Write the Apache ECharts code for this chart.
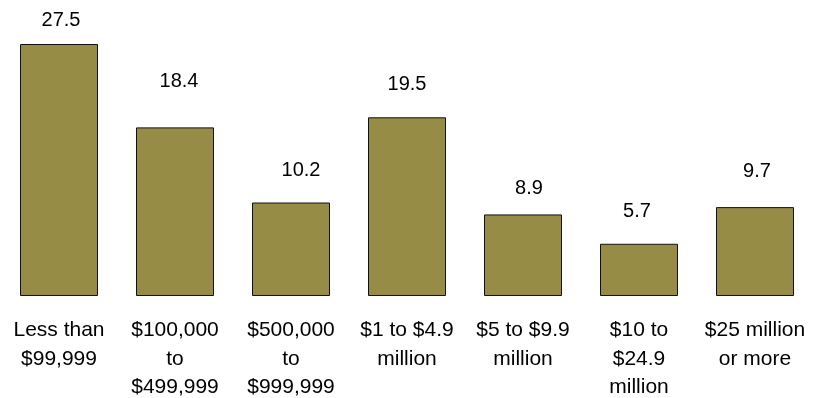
<!DOCTYPE html>
<html>
<head>
<meta charset="utf-8">
<script src="https://cdn.jsdelivr.net/npm/echarts@6/dist/echarts.min.js"></script>
<style>
  html, body { margin: 0; padding: 0; background: #ffffff; }
  #chart { width: 813px; height: 398px; }
</style>
</head>
<body>
<div id="chart"></div>
<script>
// Revenue brackets and the share (%) in each
const categories = [
  'Less than\n$99,999',
  '$100,000\nto\n$499,999',
  '$500,000\nto\n$999,999',
  '$1 to $4.9\nmillion',
  '$5 to $9.9\nmillion',
  '$10 to\n$24.9\nmillion',
  '$25 million\nor more'
];
const shares = [27.5, 18.4, 10.2, 19.5, 8.9, 5.7, 9.7];

// Hand placement of each value label relative to its bar top: [dx, dy]
const labelNudge = [
  [2, -14], [4, -36], [10, -22], [0, -23], [6, -16], [-2, -22], [2, -26]
];

const FONT = '"Liberation Sans", Arial, sans-serif';

const chart = echarts.init(document.getElementById('chart'), null, { renderer: 'canvas' });

chart.setOption({
  animation: false,
  backgroundColor: '#ffffff',
  grid: {
    left: 1, top: 44, width: 812, height: 252,
    containLabel: false,
    outerBoundsMode: 'none'
  },
  xAxis: {
    type: 'category',
    data: categories,
    axisLine: { show: false },
    axisTick: { show: false },
    axisLabel: {
      interval: 0,
      margin: 20,
      color: '#000000',
      fontFamily: FONT,
      fontSize: 21,
      lineHeight: 28.5,
      align: 'center'
    }
  },
  yAxis: {
    type: 'value',
    min: 0,
    max: 27.5,
    show: false,
    splitLine: { show: false }
  },
  series: [{
    type: 'bar',
    barWidth: 78,
    data: shares.map((v, i) => ({
      value: v,
      label: { offset: labelNudge[i] }
    })),
    itemStyle: {
      color: '#968C46',
      borderColor: '#111111',
      borderWidth: 1
    },
    label: {
      show: true,
      position: 'top',
      distance: 0,
      color: '#000000',
      fontFamily: FONT,
      fontSize: 20,
      formatter: p => p.value.toFixed(1)
    }
  }]
});
</script>
</body>
</html>
